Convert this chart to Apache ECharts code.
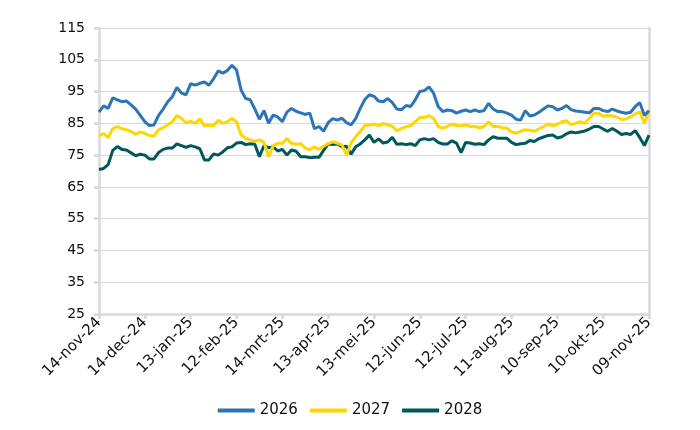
<!DOCTYPE html>
<html>
<head>
<meta charset="utf-8">
<script src="https://cdn.jsdelivr.net/npm/echarts@6/dist/echarts.min.js"></script>
<style>
html,body{margin:0;padding:0;background:#fff;}
#chart{width:700px;height:430px;}
</style>
</head>
<body>
<div id="chart"></div>
<script>
// x-axis tick labels (every 30 days from 14-nov-24)
const tickLabels = ["14-nov-24","14-dec-24","13-jan-25","12-feb-25","14-mrt-25","13-apr-25","13-mei-25","12-jun-25","12-jul-25","11-aug-25","10-sep-25","10-okt-25","09-nov-25"];
const seriesNames = ["2026","2027","2028"];
// values read every 3 days starting 14-nov-24
const v2026 = [88.5,90.5,89.7,93,92.4,91.8,92,90.8,89.5,87.5,85.5,84.3,84.5,87.5,89.5,91.8,93.4,96.3,94.5,94,
97.5,97,97.6,98,97,99,101.5,100.8,101.6,103.3,101.8,95.5,92.8,92.4,89.5,86.3,89,85,87.6,87,
85.5,88.5,89.7,88.8,88.3,87.8,88.2,83.3,84,82.5,85.2,86.5,86,86.6,85.2,84.5,86.5,89.7,92.5,94,
93.5,92,91.8,92.8,91.5,89.5,89.3,90.6,90.3,92.4,95,95.3,96.5,94.5,90.3,88.7,89.2,89,88.2,88.8,
89.2,88.7,89.2,88.7,89,91.3,89.5,88.7,88.7,88.2,87.6,86.3,86,89,87.3,87.6,88.5,89.5,90.5,90.2,
89.2,89.7,90.6,89.3,88.9,88.7,88.5,88.3,89.7,89.7,89,88.7,89.5,88.9,88.5,88.2,88.5,90.3,91.5,87.5,89];
const v2027 = [81,81.8,80.5,83.3,84,83.3,83,82.4,81.5,82.3,81.8,81.2,81,83,83.6,84.6,85.5,87.5,86.5,85.2,
85.6,85,86.4,84.2,84.5,84.2,86,85,85.5,86.5,85.5,81.3,80.3,79.8,79.3,79.8,79,74.5,78,78.7,
78.7,80.2,78.7,78.4,78.6,77.2,76.7,77.6,76.8,77.8,78.6,79.2,78.8,78.2,75,78.8,80.8,82.4,84.3,84.5,
84.8,84.2,85,84.5,84.1,82.6,83.4,83.9,84.3,85.5,86.8,86.8,87.4,86.5,84,83.5,84,84.8,84.3,84.2,
84.5,84,84,83.6,84,85.5,84,84,83.6,83.5,82.3,81.9,82.5,83,82.8,82.5,83.3,84,84.8,84.2,
84.7,85.5,85.8,84.6,85,85.5,85,86.6,88.2,88.2,87.2,87.5,87.3,87,86.2,86.4,87,88,88.6,85,88.8];
const v2028 = [70.5,70.8,72,76.5,77.7,76.8,76.6,75.7,74.8,75.3,75,73.8,73.8,75.8,76.8,77.2,77.2,78.5,78,77.4,
78,77.6,77,73.5,73.5,75.4,75,76,77.3,77.6,78.8,79,78.3,78.6,78.4,74.5,78,77.3,77.6,76.3,
76.8,75,76.6,76.2,74.5,74.5,74.2,74.3,74.3,76.5,78.5,78.3,78.6,77.6,77.8,75.3,77.6,78.5,79.8,81.3,
79,80.1,78.8,79.1,80.6,78.4,78.6,78.3,78.6,78,79.8,80.2,79.8,80.2,79,78.5,78.5,79.5,78.8,75.8,
79,78.8,78.4,78.6,78.3,79.8,80.8,80.3,80.3,80.3,79,78.3,78.6,78.7,79.6,79.3,80.2,80.7,81.2,81.3,
80.4,80.8,81.7,82.3,82,82.3,82.6,83.2,84,84,83.2,82.5,83.4,82.5,81.5,81.8,81.5,82.7,80.5,78,81.3];
const colors = ["#2E75B6","#FFD700","#00585A"];

const dayStep = 3;
const toPairs = arr => arr.map((v, i) => [i * dayStep, v]);

const chart = echarts.init(document.getElementById('chart'), null, {renderer: 'canvas'});
const font = "DejaVu Sans";
chart.setOption({
  animation: false,
  backgroundColor: '#ffffff',
  grid: {left: 99, right: 51, top: 28, bottom: 116},
  legend: {
    data: seriesNames,
    bottom: 7,
    left: 'center',
    icon: 'rect',
    itemWidth: 37,
    itemHeight: 4,
    itemGap: 12,
    textStyle: {fontFamily: font, fontSize: 15, color: '#111'}
  },
  xAxis: {
    type: 'value',
    min: 0, max: 360, interval: 30,
    splitLine: {show: false},
    axisLine: {show: true, lineStyle: {color: '#D9D9D9', width: 2.5}},
    axisTick: {show: true, length: 5, lineStyle: {color: '#D9D9D9', width: 2.5}},
    axisLabel: {
      rotate: 45, margin: 6,
      fontFamily: font, fontSize: 15, color: '#111',
      formatter: v => tickLabels[Math.round(v / 30)] || ''
    }
  },
  yAxis: [{
    type: 'value',
    min: 25, max: 115, interval: 10,
    axisLine: {show: true, lineStyle: {color: '#D9D9D9', width: 2.5}},
    axisTick: {show: true, length: 5, lineStyle: {color: '#D9D9D9', width: 2.5}},
    splitLine: {show: true, lineStyle: {color: '#D9D9D9', width: 1}},
    axisLabel: {margin: 14, fontFamily: font, fontSize: 14, color: '#111'}
  }, {
    type: 'value',
    position: 'right',
    min: 25, max: 115, interval: 10,
    axisLine: {show: true, lineStyle: {color: '#D9D9D9', width: 2.5}},
    axisTick: {show: false},
    axisLabel: {show: false},
    splitLine: {show: false}
  }],
  series: [v2026, v2027, v2028].map((arr, i) => ({
    name: seriesNames[i],
    type: 'line',
    data: toPairs(arr),
    showSymbol: false,
    symbol: 'none',
    lineStyle: {color: colors[i], width: 3},
    itemStyle: {color: colors[i]},
    z: 3 - i
  }))
});
</script>
</body>
</html>
